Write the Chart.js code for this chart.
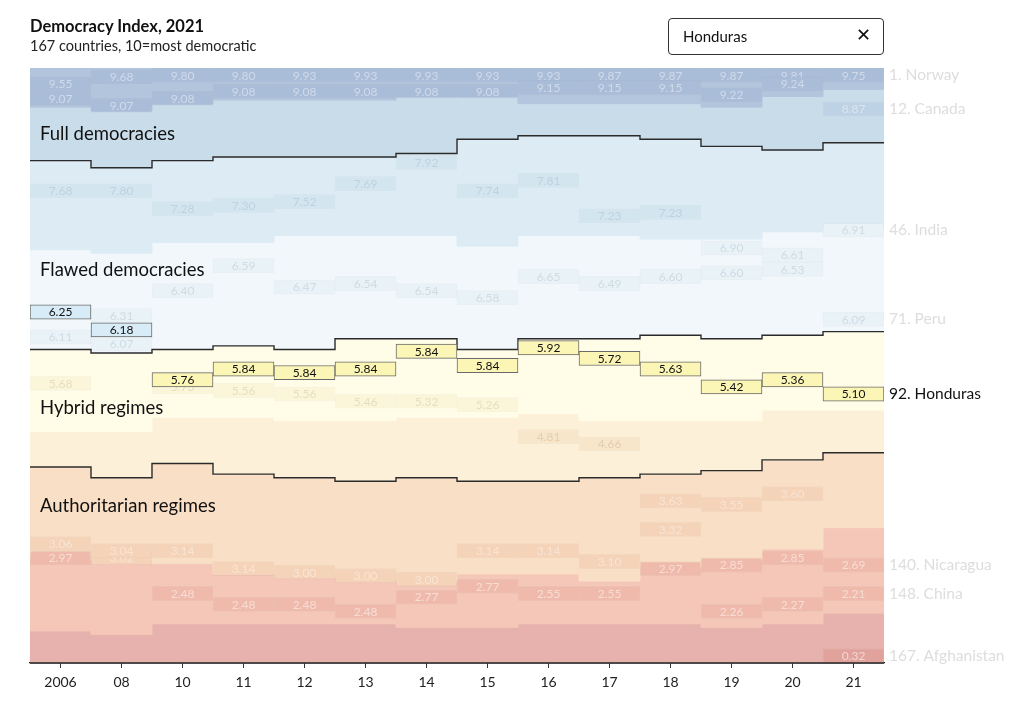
<!DOCTYPE html>
<html>
<head>
<meta charset="utf-8">
<script src="https://cdn.jsdelivr.net/npm/chart.js@4.4.1/dist/chart.umd.min.js"></script>
<style>
  body { margin: 0; background: #fff; font-family: Lato, "Noto Sans", sans-serif; }
  #wrap { position: relative; width: 1024px; height: 705px; overflow: hidden; }
  #chart { position: absolute; left: 0; top: 0; }
  .title { position: absolute; left: 30px; top: 16px; font-size: 16.5px; font-weight: bold; color: #111; }
  .subtitle { position: absolute; left: 30px; top: 37px; font-size: 14.5px; color: #222; }
  .search { position: absolute; left: 668px; top: 18px; width: 214px; height: 35px; border: 1px solid #333;
            border-radius: 4px; box-sizing: content-box; font-size: 15px; color: #111; }
  .search .q { position: absolute; left: 14px; top: 8px; }
  .search .x { position: absolute; right: 12px; top: 5px; font-size: 18px; font-weight: bold; font-family: "DejaVu Sans", sans-serif; }
  .cat { position: absolute; left: 40px; font-size: 18.5px; line-height: 24px; color: #111; }
</style>
</head>
<body>
<div id="wrap">
  <canvas id="chart" width="1024" height="705"></canvas>
  <div class="title">Democracy Index, 2021</div>
  <div class="subtitle">167 countries, 10=most democratic</div>
  <div class="search"><span class="q">Honduras</span><span class="x">✕</span></div>
  <div class="cat" style="top:121px">Full democracies</div>
  <div class="cat" style="top:257px">Flawed democracies</div>
  <div class="cat" style="top:395px">Hybrid regimes</div>
  <div class="cat" style="top:493px">Authoritarian regimes</div>
</div>
<script>
const yearLabels = ["2006", "08", "10", "11", "12", "13", "14", "15", "16", "17", "18", "19", "20", "21"];
const totalCountries = 167;

// how many countries score at least N, per year
const atLeast9 = [11, 12, 10, 9, 9, 9, 8, 8, 10, 10, 10, 11, 8, 6];
const atLeast8 = [26, 28, 26, 25, 25, 25, 24, 20, 19, 19, 20, 22, 23, 21];
const atLeast7 = [51, 52, 49, 49, 47, 47, 47, 50, 47, 47, 48, 48, 46, 45];
const atLeast6 = [79, 80, 79, 78, 79, 76, 76, 79, 76, 76, 75, 76, 75, 74];
const atLeast5 = [102, 102, 98, 98, 99, 99, 98, 98, 97, 99, 99, 99, 96, 96];
const atLeast4 = [112, 115, 111, 114, 115, 116, 115, 116, 116, 115, 114, 113, 110, 108];
const atLeast3 = [137, 138, 139, 142, 142, 143, 144, 142, 142, 144, 140, 138, 135, 129];
const atLeast2 = [158, 159, 156, 156, 156, 156, 157, 157, 156, 156, 156, 157, 156, 153];

// sample countries: score and rank per year
const norwayScores = [9.55, 9.68, 9.80, 9.80, 9.93, 9.93, 9.93, 9.93, 9.93, 9.87, 9.87, 9.87, 9.81, 9.75];
const norwayRanks = [5, 3, 1, 1, 1, 1, 1, 1, 1, 1, 1, 1, 1, 1];
const canadaScores = [9.07, 9.07, 9.08, 9.08, 9.08, 9.08, 9.08, 9.08, 9.15, 9.15, 9.15, 9.22, 9.24, 8.87];
const canadaRanks = [9, 11, 9, 7, 7, 7, 7, 7, 6, 6, 6, 8, 5, 12];
const indiaScores = [7.68, 7.80, 7.28, 7.30, 7.52, 7.69, 7.92, 7.74, 7.81, 7.23, 7.23, 6.90, 6.61, 6.91];
const indiaRanks = [35, 35, 40, 39, 38, 33, 27, 35, 32, 42, 41, 51, 53, 46];
const peruScores = [6.11, 6.31, 6.40, 6.59, 6.47, 6.54, 6.54, 6.58, 6.65, 6.49, 6.60, 6.60, 6.53, 6.09];
const peruRanks = [76, 70, 63, 56, 62, 61, 63, 65, 59, 61, 59, 58, 57, 71];
const nicaraguaScores = [5.68, 6.07, 5.73, 5.56, 5.56, 5.46, 5.32, 5.26, 4.81, 4.66, 3.63, 3.55, 3.60, 2.69];
const nicaraguaRanks = [89, 78, 90, 91, 92, 94, 94, 95, 104, 106, 122, 123, 120, 140];
const afghanistanScores = [3.06, 3.02, 2.48, 2.48, 2.48, 2.48, 2.77, 2.77, 2.55, 2.55, 2.97, 2.85, 2.85, 0.32];
const afghanistanRanks = [134, 138, 148, 151, 151, 153, 149, 146, 148, 148, 141, 140, 138, 167];
const chinaScores = [2.97, 3.04, 3.14, 3.14, 3.00, 3.00, 3.00, 3.14, 3.14, 3.10, 3.32, 2.26, 2.27, 2.21];
const chinaRanks = [138, 136, 136, 141, 142, 143, 144, 136, 136, 139, 130, 153, 151, 148];
const hondurasScores = [6.25, 6.18, 5.76, 5.84, 5.84, 5.84, 5.84, 5.84, 5.92, 5.72, 5.63, 5.42, 5.36, 5.10];
const hondurasRanks = [69, 74, 88, 85, 86, 85, 80, 84, 79, 82, 85, 90, 88, 92];

// score bins: 9+, 8-9, 7-8, 6-7, 5-6, 4-5, 3-4, 2-3, <2
const binFloors = [9, 8, 7, 6, 5, 4, 3, 2];
const bandColors = ["#b3c5dd", "#c9dcea", "#ddecf4", "#f1f7fb", "#fffce7", "#fdf0d8", "#f9dfc5", "#f4c7b9", "#e7b2ad"];
const boxColors = ["#a9bcd8", "#bdd2e4", "#d3e6f0", "#e8f2f7", "#fbf5da", "#f8e6ca", "#f5d3b8", "#efbaab", "#e2a29c"];
const boxText = ["rgba(255,255,255,0.45)", "rgba(255,255,255,0.45)", "rgba(110,140,165,0.22)", "rgba(110,130,150,0.2)",
                 "rgba(150,130,80,0.2)", "rgba(150,110,60,0.2)", "rgba(255,255,255,0.4)", "rgba(255,255,255,0.5)", "rgba(255,255,255,0.55)"];
const pickColors = ["#a9bcd8", "#bdd2e4", "#cfe6f2", "#d7ecf6", "#fcf6b6", "#fbe7b8", "#f7d2b0", "#f2b8a6", "#e6a29a"];

function binOf(score) {
  const i = binFloors.findIndex((f) => score >= f);
  return i === -1 ? binFloors.length : i;
}

// a label box is 4 ranks tall, kept inside the plot
const boxSpan = 4;
function boxFor(rank) {
  const lo = Math.min(Math.max(rank - 0.5 - boxSpan / 2, 0), totalCountries - boxSpan);
  return [lo, lo + boxSpan];
}

function stepPoints(counts) {
  const pts = counts.map((v, i) => ({ x: i - 0.5, y: v }));
  pts.push({ x: counts.length - 0.5, y: counts[counts.length - 1] });
  return pts;
}

const allRanks = yearLabels.map(() => totalCountries);
const boundaries = [atLeast9, atLeast8, atLeast7, atLeast6, atLeast5, atLeast4, atLeast3, atLeast2, allRanks];

const datasets = [];

// score bands
boundaries.forEach((b, k) => {
  datasets.push({
    type: "line",
    data: stepPoints(b),
    stepped: true,
    fill: k === 0 ? "end" : "-1",
    backgroundColor: bandColors[k],
    borderColor: bandColors[k],
    borderWidth: 1,
    pointRadius: 0,
    order: 100,
  });
});

// regime borders
[atLeast8, atLeast6, atLeast4].forEach((b) => {
  datasets.push({
    type: "line",
    data: stepPoints(b),
    stepped: true,
    fill: false,
    borderColor: "#2b2b2b",
    borderWidth: 1.4,
    pointRadius: 0,
    order: 10,
  });
});

// bottom baseline (last rank)
datasets.push({
  type: "line",
  data: stepPoints(allRanks),
  stepped: true,
  fill: false,
  borderColor: "#222",
  borderWidth: 1.6,
  pointRadius: 0,
  clip: false,
  order: 5,
});

const samples = [
  { name: "Norway", scores: norwayScores, ranks: norwayRanks },
  { name: "Canada", scores: canadaScores, ranks: canadaRanks },
  { name: "India", scores: indiaScores, ranks: indiaRanks },
  { name: "Peru", scores: peruScores, ranks: peruRanks },
  { name: "Nicaragua", scores: nicaraguaScores, ranks: nicaraguaRanks },
  { name: "Afghanistan", scores: afghanistanScores, ranks: afghanistanRanks },
  { name: "China", scores: chinaScores, ranks: chinaRanks },
];
const picked = { name: "Honduras", scores: hondurasScores, ranks: hondurasRanks };

samples.forEach((c, k) => {
  datasets.push({
    type: "bar",
    data: c.ranks.map((r, i) => ({ x: i, y: boxFor(r) })),
    backgroundColor: c.scores.map((s) => boxColors[binOf(s)]),
    borderColor: "rgba(90,90,90,0.05)",
    borderWidth: 1,
    borderSkipped: false,
    grouped: false,
    barPercentage: 1,
    categoryPercentage: 1,
    scoreLabels: c.scores,
    order: 50 - k,
  });
});

datasets.push({
  type: "bar",
  data: picked.ranks.map((r, i) => ({ x: i, y: boxFor(r) })),
  backgroundColor: picked.scores.map((s) => pickColors[binOf(s)]),
  borderColor: "#6a6a6a",
  borderWidth: 1,
  borderSkipped: false,
  grouped: false,
  barPercentage: 1,
  categoryPercentage: 1,
  scoreLabels: picked.scores,
  isPicked: true,
  order: 0,
});

// right-hand labels: latest rank of each country
const endLabels = samples.concat([picked])
  .map((c) => ({ rank: c.ranks[c.ranks.length - 1], name: c.name, picked: c === picked }))
  .sort((a, b) => a.rank - b.rank);

const boxLabels = {
  id: "boxLabels",
  afterDatasetDraw(chart, args) {
    const ds = chart.data.datasets[args.index];
    if (!ds.scoreLabels) return;
    const ctx = chart.ctx;
    ctx.save();
    ctx.font = "12px Lato, sans-serif";
    ctx.textAlign = "center";
    ctx.textBaseline = "middle";
    args.meta.data.forEach((bar, i) => {
      const s = ds.scoreLabels[i];
      const p = bar.getProps(["x", "y", "base"], true);
      ctx.fillStyle = ds.isPicked ? "#111" : boxText[binOf(s)];
      ctx.fillText(s.toFixed(2), p.x, (p.y + p.base) / 2 + 0.5);
    });
    ctx.restore();
  },
};

Chart.defaults.font.family = "Lato, 'Noto Sans', sans-serif";

new Chart(document.getElementById("chart"), {
  type: "bar",
  data: { datasets },
  plugins: [boxLabels],
  options: {
    responsive: false,
    animation: false,
    layout: { padding: { top: 68, left: 30, right: 0, bottom: 0 } },
    plugins: { legend: { display: false }, tooltip: { enabled: false } },
    events: [],
    scales: {
      x: {
        type: "linear",
        z: 1,
        min: -0.5,
        max: yearLabels.length - 0.5,
        offset: false,
        afterBuildTicks: (axis) => { axis.ticks = yearLabels.map((_, i) => ({ value: i })); },
        afterFit: (axis) => { axis.height = 42; },
        ticks: {
          autoSkip: false,
          maxRotation: 0,
          color: "#222",
          font: { size: 14 },
          padding: 6,
          callback: (v) => yearLabels[Math.round(v)],
        },
        grid: { display: true, drawOnChartArea: false, drawTicks: true, tickLength: 5, color: "#333", lineWidth: 1, offset: false },
        border: { display: true, color: "#222", width: 1.3 },
      },
      y: {
        type: "linear",
        display: false,
        reverse: true,
        min: 0,
        max: totalCountries,
      },
      yr: {
        type: "linear",
        position: "right",
        reverse: true,
        min: 0,
        max: totalCountries,
        afterBuildTicks: (axis) => {
          axis.ticks = endLabels.map((l) => { const b = boxFor(l.rank); return { value: (b[0] + b[1]) / 2 }; });
        },
        afterFit: (axis) => { axis.width = 140; },
        ticks: {
          autoSkip: false,
          padding: 5,
          font: { size: 15.5 },
          color: (ctx) => (endLabels[ctx.index] && endLabels[ctx.index].picked ? "#111" : "#dddddd"),
          callback: (v, i) => endLabels[i].rank + ". " + endLabels[i].name,
        },
        grid: { display: false, drawTicks: false },
        border: { display: false },
      },
    },
  },
});
</script>
</body>
</html>
